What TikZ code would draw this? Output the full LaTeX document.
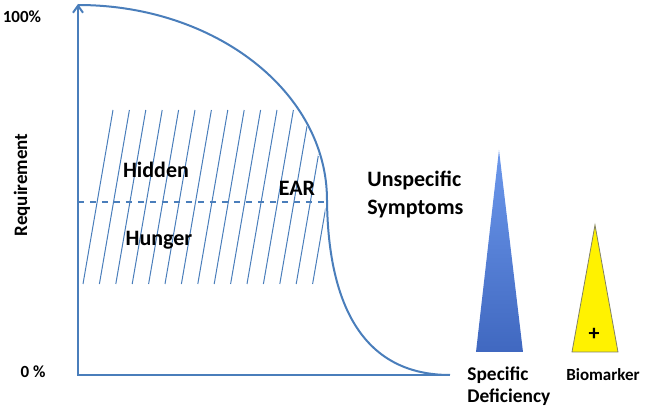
\documentclass[tikz,border=0pt]{standalone}
\usepackage{fontspec}
\setmainfont{Carlito}
\usetikzlibrary{arrows.meta}
\definecolor{lineblue}{RGB}{74,126,187}
\definecolor{shadetop}{RGB}{108,152,236}
\definecolor{shadebottom}{RGB}{64,104,192}
\definecolor{markeredge}{RGB}{130,130,100}
\begin{document}
\begin{tikzpicture}[x=0.5pt,y=-0.5pt,
    labeltext/.style={font=\bfseries\fontsize{11}{14}\selectfont, inner sep=0pt},
    smalltext/.style={font=\bfseries\fontsize{8.5}{10}\selectfont, inner sep=0pt}]
    \useasboundingbox (0,0) rectangle (645,412);

    % Hatching below the curve
    \begin{scope}
    \clip (78,5)
    arc[start angle=-90, end angle=0, x radius=247, y radius=195]
    .. controls (327,300) and (360,375) .. (450,375)
    -- (78,375) -- cycle;
    \foreach \i in {0,...,14}
        \draw[lineblue, line width=0.5pt] (83+16.4*\i,284) -- (113+16.4*\i,110);
    \end{scope}

    % Axes
    \draw[lineblue, line width=1pt, {Straight Barb[length=3.5pt,width=5pt]}-]
    (78,4) -- (78,375) -- (450,375);

    % Requirement curve
    \draw[lineblue, line width=1pt] (78,5)
    arc[start angle=-90, end angle=0, x radius=249, y radius=195]
    .. controls (328,300) and (360,375) .. (450,375);

    % EAR level
    \draw[lineblue, line width=0.8pt, dashed] (78,202) -- (327,202);

    % Triangles
    \shade[top color=shadetop, bottom color=shadebottom]
    (499,150) -- (523,352) -- (476,352) -- cycle;
    \filldraw[fill=yellow, draw=markeredge, line width=0.4pt]
    (595,225) -- (618,352) -- (572,352) -- cycle;
    \node[smalltext, font=\bfseries\fontsize{11}{12}\selectfont] (plus) at (594,334) {+};

    % Labels
    \node[smalltext] (top) at (22,17) {100\%};
    \node[smalltext] (zero) at (33,372) {0 \%};
    \node[smalltext, font=\bfseries\fontsize{9.5}{11}\selectfont, rotate=90] (req) at (22,185) {Requirement};
    \node[labeltext] (hidden) at (156,170) {Hidden};
    \node[labeltext] (hunger) at (159,240) {Hunger};
    \node[labeltext] (ear) at (297,188) {EAR};
    \node[labeltext, anchor=west, align=left] (unspec) at (367,194) {Unspecific\\Symptoms};
    \node[labeltext, font=\bfseries\fontsize{9.7}{11}\selectfont, anchor=west, align=left] (specific) at (467,386) {Specific\\Deficiency};
    \node[smalltext] (marker) at (603,375) {Biomarker};
\end{tikzpicture}
\end{document}
